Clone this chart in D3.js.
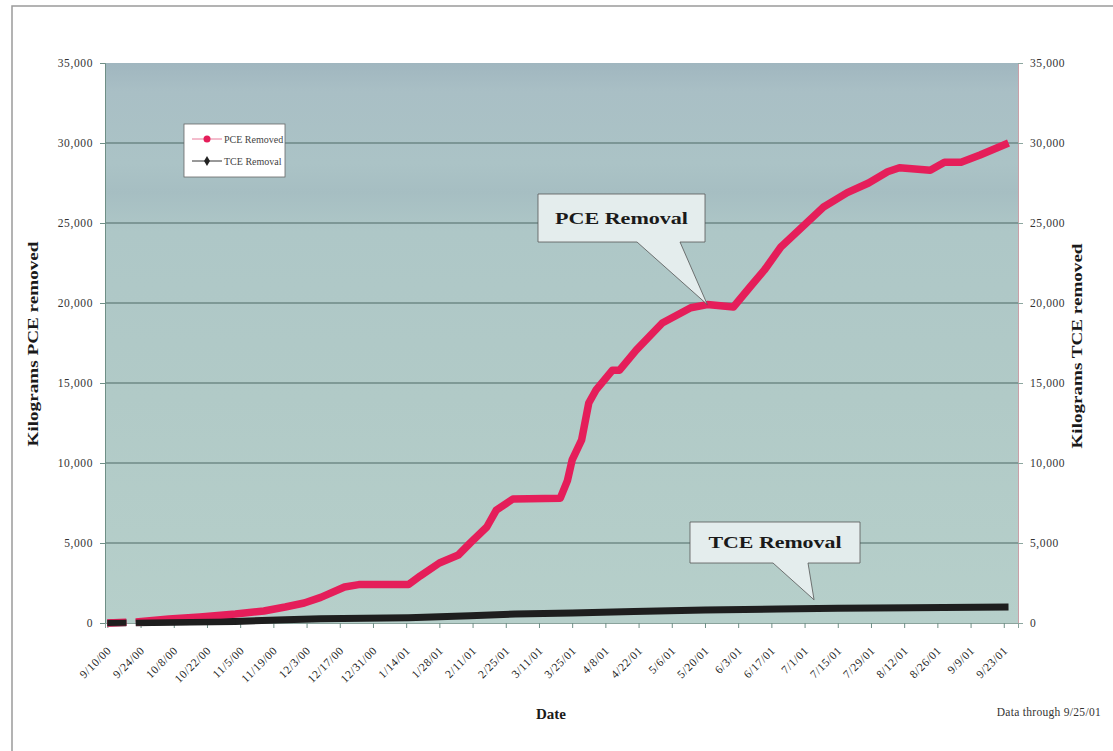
<!DOCTYPE html>
<html>
<head>
<meta charset="utf-8">
<script src="https://cdn.jsdelivr.net/npm/d3@7"></script>
<style>
  body { margin: 0; background: #ffffff; }
  svg { display: block; }
  text { font-family: "Liberation Serif", "DejaVu Serif", serif; }
</style>
</head>
<body>
<svg id="chart" width="1113" height="751"></svg>
<script>
// ---- data ----
const pceDates = ["9/10/00","9/18/00","9/20/00","9/22/00","10/6/00","10/19/00","11/3/00","11/15/00","11/24/00","12/2/00","12/9/00","12/19/00","12/25/00","1/15/01","1/20/01","1/28/01","2/5/01","2/10/01","2/17/01","2/21/01","2/28/01","3/20/01","3/23/01","3/25/01","3/29/01","4/1/01","4/4/01","4/11/01","4/14/01","4/21/01","5/2/01","5/14/01","5/21/01","6/1/01","6/8/01","6/14/01","6/21/01","6/30/01","7/9/01","7/19/01","7/28/01","8/5/01","8/10/01","8/23/01","8/29/01","9/5/01","9/13/01","9/25/01"];
const pceValues = [0,40,null,60,250,380,560,750,1000,1250,1600,2250,2400,2400,2950,3750,4250,5000,6000,7050,7750,7800,8900,10200,11450,13750,14550,15800,15800,17050,18750,19700,19900,19750,21000,22050,23500,24750,26000,26900,27500,28200,28450,28300,28800,28800,29250,30000];
const tceDates = ["9/10/00","9/18/00","9/20/00","9/22/00","10/6/00","11/3/00","11/24/00","12/9/00","1/15/01","2/10/01","3/1/01","3/25/01","4/20/01","5/20/01","6/20/01","7/15/01","8/15/01","9/25/01"];
const tceValues = [0,10,null,20,40,100,200,260,330,450,560,620,720,820,870,920,960,1000];
const xTickLabels = ["9/10/00","9/24/00","10/8/00","10/22/00","11/5/00","11/19/00","12/3/00","12/17/00","12/31/00","1/14/01","1/28/01","2/11/01","2/25/01","3/11/01","3/25/01","4/8/01","4/22/01","5/6/01","5/20/01","6/3/01","6/17/01","7/1/01","7/15/01","7/29/01","8/12/01","8/26/01","9/9/01","9/23/01"];
const yTicks = [0,5000,10000,15000,20000,25000,30000,35000];
const seriesNames = ["PCE Removed","TCE Removal"];
const calloutLabels = ["PCE Removal","TCE Removal"];
const axisTitles = {left: "Kilograms PCE removed", right: "Kilograms TCE removed", bottom: "Date"};
const footnote = "Data through 9/25/01";

// ---- setup ----
const parse = d3.timeParse("%m/%d/%y");
const svg = d3.select("#chart");
const M = {left: 105, right: 1018, top: 63, bottom: 623};

const x = d3.scaleTime()
  .domain([parse("9/9/00"), parse("9/29/01")])
  .range([M.left, M.right]);
const y = d3.scaleLinear().domain([0, 35000]).range([M.bottom, M.top]);

// outer frame
svg.append("rect").attr("x", 12).attr("y", 6).attr("width", 1120).attr("height", 760)
  .attr("fill", "none").attr("stroke", "#9a9a9a").attr("stroke-width", 1.5);

// plot background gradient
const defs = svg.append("defs");
const grad = defs.append("linearGradient").attr("id", "bg").attr("x1", 0).attr("y1", 0).attr("x2", 0).attr("y2", 1);
[[0, "#a0b6bf"], [0.05, "#a9bfc5"], [0.18, "#abc3c6"], [0.23, "#a6bec2"], [0.3, "#aec7c7"], [0.6, "#b1cac7"], [1, "#b6cfca"]]
  .forEach(([o, c]) => grad.append("stop").attr("offset", o).attr("stop-color", c));
svg.append("rect").attr("x", M.left).attr("y", M.top)
  .attr("width", M.right - M.left).attr("height", M.bottom - M.top).attr("fill", "url(#bg)");

// gridlines
svg.append("g").selectAll("line").data(yTicks.filter(d => d > 0 && d < 35000)).join("line")
  .attr("x1", M.left).attr("x2", M.right)
  .attr("y1", d => y(d)).attr("y2", d => y(d))
  .attr("stroke", "#4e6a66").attr("stroke-width", 1.2);

// left axis
const fmt = d3.format(",");
const yl = svg.append("g").attr("transform", `translate(${M.left},0)`)
  .call(d3.axisLeft(y).tickValues(yTicks).tickFormat(fmt).tickSize(5).tickPadding(7));
yl.select(".domain").attr("stroke", "#6f8f86");
yl.selectAll(".tick line").attr("stroke", "#6f8f86");
yl.selectAll("text").attr("font-size", 11.5).attr("letter-spacing", 0.6).attr("fill", "#333").attr("font-family", "Liberation Serif, serif");

// right axis
const yr = svg.append("g").attr("transform", `translate(${M.right},0)`)
  .call(d3.axisRight(y).tickValues(yTicks).tickFormat(fmt).tickSize(5).tickPadding(7));
yr.select(".domain").attr("stroke", "#c9a0a8");
yr.selectAll(".tick line").attr("stroke", "#8ca69f");
yr.selectAll("text").attr("font-size", 11.5).attr("letter-spacing", 0.6).attr("fill", "#333").attr("font-family", "Liberation Serif, serif");

// bottom axis
const xTickDates = xTickLabels.map(parse);
const xb = svg.append("g").attr("transform", `translate(0,${M.bottom})`)
  .call(d3.axisBottom(x).tickValues(xTickDates).tickFormat(d3.timeFormat("%-m/%-d/%y")).tickSize(5).tickPadding(4));
xb.select(".domain").attr("stroke", "#8aa39c");
xb.selectAll(".tick line").attr("stroke", "#6f8f86");
xb.selectAll("text")
  .attr("font-size", 11.5).attr("letter-spacing", 0.6).attr("fill", "#222").attr("font-family", "Liberation Serif, serif")
  .attr("text-anchor", "end")
  .attr("dy", "0.35em")
  .attr("transform", "translate(-5,19) rotate(-45)");

// lines
const pceData = pceDates.map((d, i) => ({date: parse(d), v: pceValues[i]}));
const tceData = tceDates.map((d, i) => ({date: parse(d), v: tceValues[i]}));
const line = d3.line().defined(d => d.v !== null).x(d => x(d.date)).y(d => y(d.v));

svg.append("path").datum(tceData).attr("d", line)
  .attr("fill", "none").attr("stroke", "#1e1e1e").attr("stroke-width", 7).attr("stroke-linejoin", "round");
svg.append("path").datum(pceData).attr("d", line)
  .attr("fill", "none").attr("stroke", "#e51e5a").attr("stroke-width", 7.5).attr("stroke-linejoin", "round");
// overlap at start: TCE over PCE near zero
svg.append("path").datum(tceData.filter(d => d.date <= parse("11/3/00"))).attr("d", line)
  .attr("fill", "none").attr("stroke", "#1e1e1e").attr("stroke-width", 6);

// legend
const lg = svg.append("g").attr("transform", "translate(184,124)");
lg.append("rect").attr("width", 101).attr("height", 53).attr("fill", "#ffffff").attr("stroke", "#666").attr("stroke-width", 0.8);
const legendColors = ["#e51e5a", "#222"];
seriesNames.forEach((name, i) => {
  const yy = 15 + i * 22;
  lg.append("line").attr("x1", 8).attr("x2", 38).attr("y1", yy).attr("y2", yy)
    .attr("stroke", i === 0 ? "#e87a9a" : "#333").attr("stroke-width", 1);
  if (i === 0) {
    lg.append("circle").attr("cx", 23).attr("cy", yy).attr("r", 3.5).attr("fill", legendColors[0]);
  } else {
    lg.append("path").attr("d", d3.symbol(d3.symbolDiamond, 30)()).attr("transform", `translate(23,${yy})`).attr("fill", legendColors[1]);
  }
  lg.append("text").attr("x", 40).attr("y", yy).attr("dy", "0.35em")
    .attr("font-size", 10).attr("fill", "#444").text(name);
});

// callouts
function callout(box, base, tipDate, tipVal, label) {
  const tx = x(parse(tipDate)), ty = y(tipVal);
  const g = svg.append("g");
  const [bx, by, bw, bh] = box;
  const path = `M${bx},${by} H${bx + bw} V${by + bh} H${base[1]} L${tx},${ty} L${base[0]},${by + bh} H${bx} Z`;
  g.append("path").attr("d", path).attr("fill", "#e4eded").attr("stroke", "#555").attr("stroke-width", 0.8);
  g.append("text").attr("x", bx + bw / 2).attr("y", by + bh / 2).attr("dy", "0.35em")
    .attr("text-anchor", "middle").attr("font-size", 17).attr("font-weight", "bold").attr("fill", "#1a1a1a")
    .attr("textLength", 133).attr("lengthAdjust", "spacingAndGlyphs")
    .text(label);
}
callout([538, 194, 167, 48], [637, 680], "5/21/01", 19900, calloutLabels[0]);
callout([690, 522, 170, 41], [773, 808], "7/5/01", 1450, calloutLabels[1]);

// axis titles
svg.append("text").attr("transform", "translate(38,344) rotate(-90)")
  .attr("text-anchor", "middle").attr("font-size", 14).attr("font-weight", "bold").attr("fill", "#1a1a1a")
  .attr("textLength", 205).attr("lengthAdjust", "spacingAndGlyphs")
  .text(axisTitles.left);
svg.append("text").attr("transform", "translate(1082,346) rotate(-90)")
  .attr("text-anchor", "middle").attr("font-size", 14).attr("font-weight", "bold").attr("fill", "#1a1a1a")
  .attr("textLength", 205).attr("lengthAdjust", "spacingAndGlyphs")
  .text(axisTitles.right);
svg.append("text").attr("x", 551).attr("y", 719)
  .attr("text-anchor", "middle").attr("font-size", 15).attr("font-weight", "bold").attr("fill", "#1a1a1a")
  .text(axisTitles.bottom);
svg.append("text").attr("x", 1101).attr("y", 716)
  .attr("text-anchor", "end").attr("font-size", 11.5).attr("letter-spacing", 0.3).attr("fill", "#333")
  .text(footnote);
</script>
</body>
</html>
